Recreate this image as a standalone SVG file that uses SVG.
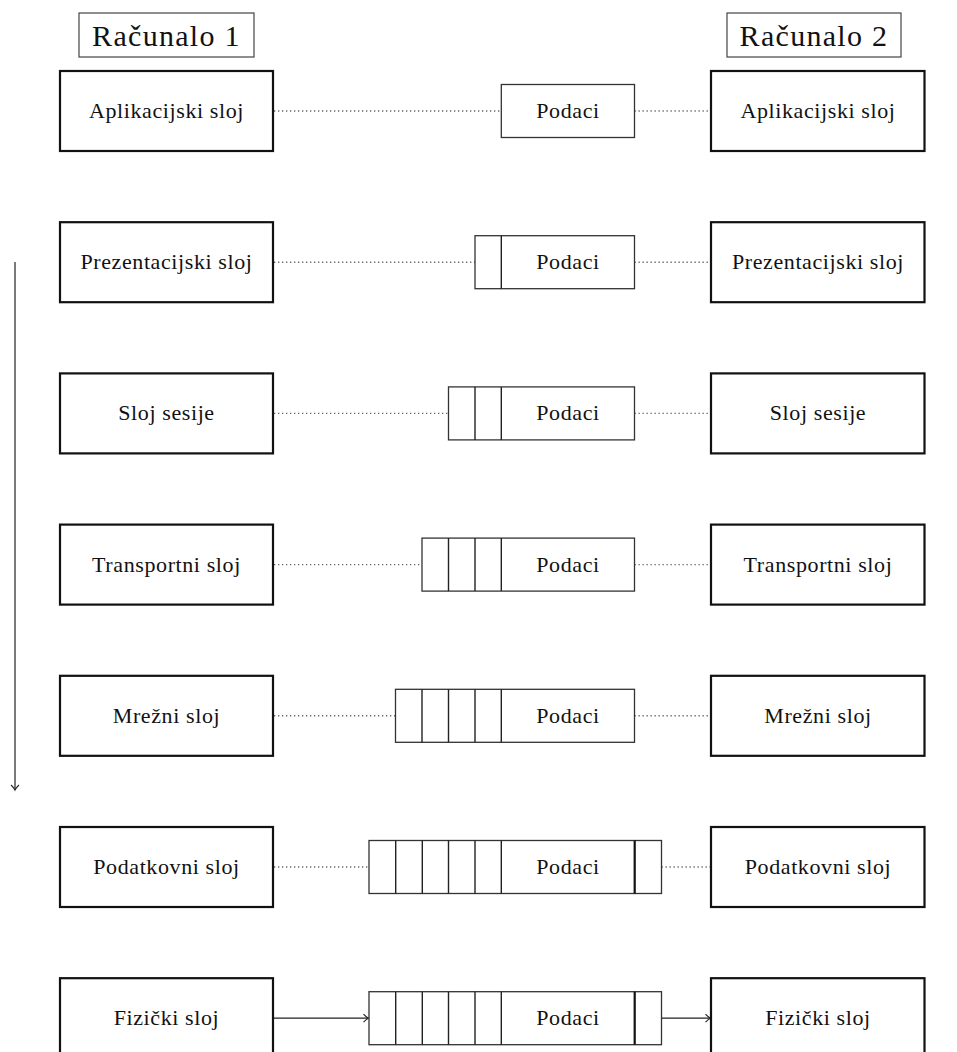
<svg xmlns="http://www.w3.org/2000/svg" width="957" height="1052" viewBox="0 0 957 1052">
<style>
  .layer { fill: #fff; stroke: #111; stroke-width: 2.2; }
  .title { fill: #fff; stroke: #444; stroke-width: 1.2; }
  .pkt { fill: #fff; stroke: #333; stroke-width: 1.3; }
  .sep { stroke: #222; stroke-width: 1.4; }
  .trl { stroke: #111; stroke-width: 2.2; }
  .dot { stroke: #666; stroke-width: 1.4; stroke-dasharray: 1.3 2.7; fill: none; }
  .arr { stroke: #222; stroke-width: 1.2; fill: none; }
  text { font-family: "Liberation Serif", "DejaVu Serif", serif; fill: #111; text-anchor: middle; }
  .t { font-size: 22px; letter-spacing: 0.6px; }
  .h { font-size: 30px; letter-spacing: 1.3px; }
</style>
<defs>
  <marker id="to" markerUnits="userSpaceOnUse" markerWidth="12" markerHeight="12" viewBox="-8 -6 10 12" refX="0" refY="0" orient="auto">
    <path d="M -5 -4 Q -2 -0.8 0 0 Q -2 0.8 -5 4" fill="none" stroke="#222" stroke-width="1.1"/>
  </marker>
</defs>

<g id="title1"><rect class="title" x="79" y="13" width="175" height="44"/><text class="h" x="166.5" y="46">Računalo 1</text></g>
<g id="title2"><rect class="title" x="727" y="13" width="174" height="44"/><text class="h" x="814" y="46">Računalo 2</text></g>

<g id="connectors">
  <line class="dot" x1="274" y1="111" x2="501" y2="111"/>
  <line class="dot" x1="634.5" y1="111" x2="710" y2="111"/>
  <line class="dot" x1="274" y1="262.2" x2="475" y2="262.2"/>
  <line class="dot" x1="634.5" y1="262.2" x2="710" y2="262.2"/>
  <line class="dot" x1="274" y1="413.4" x2="448.3" y2="413.4"/>
  <line class="dot" x1="634.5" y1="413.4" x2="710" y2="413.4"/>
  <line class="dot" x1="274" y1="564.6" x2="422" y2="564.6"/>
  <line class="dot" x1="634.5" y1="564.6" x2="710" y2="564.6"/>
  <line class="dot" x1="274" y1="715.8" x2="395.5" y2="715.8"/>
  <line class="dot" x1="634.5" y1="715.8" x2="710" y2="715.8"/>
  <line class="dot" x1="274" y1="867" x2="369" y2="867"/>
  <line class="dot" x1="661.5" y1="867" x2="710" y2="867"/>
  <line class="arr" x1="274" y1="1018.2" x2="368.5" y2="1018.2" marker-end="url(#to)"/>
  <line class="arr" x1="661.5" y1="1018.2" x2="710.5" y2="1018.2" marker-end="url(#to)"/>
  <line class="arr" x1="15" y1="262" x2="15" y2="790" marker-end="url(#to)"/>
</g>

<g id="l1"><rect class="layer" x="60" y="71" width="213" height="80"/><text class="t" x="166.5" y="118">Aplikacijski sloj</text></g>
<g id="l2"><rect class="layer" x="60" y="222.2" width="213" height="80"/><text class="t" x="166.5" y="269.2">Prezentacijski sloj</text></g>
<g id="l3"><rect class="layer" x="60" y="373.4" width="213" height="80"/><text class="t" x="166.5" y="420.4">Sloj sesije</text></g>
<g id="l4"><rect class="layer" x="60" y="524.6" width="213" height="80"/><text class="t" x="166.5" y="571.6">Transportni sloj</text></g>
<g id="l5"><rect class="layer" x="60" y="675.8" width="213" height="80"/><text class="t" x="166.5" y="722.8">Mrežni sloj</text></g>
<g id="l6"><rect class="layer" x="60" y="827" width="213" height="80"/><text class="t" x="166.5" y="874">Podatkovni sloj</text></g>
<g id="l7"><rect class="layer" x="60" y="978.2" width="213" height="80"/><text class="t" x="166.5" y="1025.2">Fizički sloj</text></g>

<g id="r1"><rect class="layer" x="711" y="71" width="213.5" height="80"/><text class="t" x="818" y="118">Aplikacijski sloj</text></g>
<g id="r2"><rect class="layer" x="711" y="222.2" width="213.5" height="80"/><text class="t" x="818" y="269.2">Prezentacijski sloj</text></g>
<g id="r3"><rect class="layer" x="711" y="373.4" width="213.5" height="80"/><text class="t" x="818" y="420.4">Sloj sesije</text></g>
<g id="r4"><rect class="layer" x="711" y="524.6" width="213.5" height="80"/><text class="t" x="818" y="571.6">Transportni sloj</text></g>
<g id="r5"><rect class="layer" x="711" y="675.8" width="213.5" height="80"/><text class="t" x="818" y="722.8">Mrežni sloj</text></g>
<g id="r6"><rect class="layer" x="711" y="827" width="213.5" height="80"/><text class="t" x="818" y="874">Podatkovni sloj</text></g>
<g id="r7"><rect class="layer" x="711" y="978.2" width="213.5" height="80"/><text class="t" x="818" y="1025.2">Fizički sloj</text></g>

<g id="p1"><rect class="pkt" x="501.3" y="84.5" width="133.2" height="53"/><text class="t" x="568" y="118">Podaci</text></g>
<g id="p2"><rect class="pkt" x="475" y="235.7" width="159.5" height="53"/>
  <line class="sep" x1="501.3" y1="235.7" x2="501.3" y2="288.7"/>
  <text class="t" x="568" y="269.2">Podaci</text></g>
<g id="p3"><rect class="pkt" x="448.5" y="386.9" width="186" height="53"/>
  <line class="sep" x1="475" y1="386.9" x2="475" y2="439.9"/>
  <line class="sep" x1="501.3" y1="386.9" x2="501.3" y2="439.9"/>
  <text class="t" x="568" y="420.4">Podaci</text></g>
<g id="p4"><rect class="pkt" x="422" y="538.1" width="212.5" height="53"/>
  <line class="sep" x1="448.5" y1="538.1" x2="448.5" y2="591.1"/>
  <line class="sep" x1="475" y1="538.1" x2="475" y2="591.1"/>
  <line class="sep" x1="501.3" y1="538.1" x2="501.3" y2="591.1"/>
  <text class="t" x="568" y="571.6">Podaci</text></g>
<g id="p5"><rect class="pkt" x="395.5" y="689.3" width="239" height="53"/>
  <line class="sep" x1="422" y1="689.3" x2="422" y2="742.3"/>
  <line class="sep" x1="448.5" y1="689.3" x2="448.5" y2="742.3"/>
  <line class="sep" x1="475" y1="689.3" x2="475" y2="742.3"/>
  <line class="sep" x1="501.3" y1="689.3" x2="501.3" y2="742.3"/>
  <text class="t" x="568" y="722.8">Podaci</text></g>
<g id="p6"><rect class="pkt" x="369" y="840.5" width="292.5" height="53"/>
  <line class="sep" x1="395.7" y1="840.5" x2="395.7" y2="893.5"/>
  <line class="sep" x1="422.3" y1="840.5" x2="422.3" y2="893.5"/>
  <line class="sep" x1="448.5" y1="840.5" x2="448.5" y2="893.5"/>
  <line class="sep" x1="475" y1="840.5" x2="475" y2="893.5"/>
  <line class="sep" x1="501.3" y1="840.5" x2="501.3" y2="893.5"/>
  <line class="trl" x1="634.7" y1="840.5" x2="634.7" y2="893.5"/>
  <text class="t" x="568" y="874">Podaci</text></g>
<g id="p7"><rect class="pkt" x="369" y="991.7" width="292.5" height="53"/>
  <line class="sep" x1="395.7" y1="991.7" x2="395.7" y2="1044.7"/>
  <line class="sep" x1="422.3" y1="991.7" x2="422.3" y2="1044.7"/>
  <line class="sep" x1="448.5" y1="991.7" x2="448.5" y2="1044.7"/>
  <line class="sep" x1="475" y1="991.7" x2="475" y2="1044.7"/>
  <line class="sep" x1="501.3" y1="991.7" x2="501.3" y2="1044.7"/>
  <line class="trl" x1="634.7" y1="991.7" x2="634.7" y2="1044.7"/>
  <text class="t" x="568" y="1025.2">Podaci</text></g>
</svg>
